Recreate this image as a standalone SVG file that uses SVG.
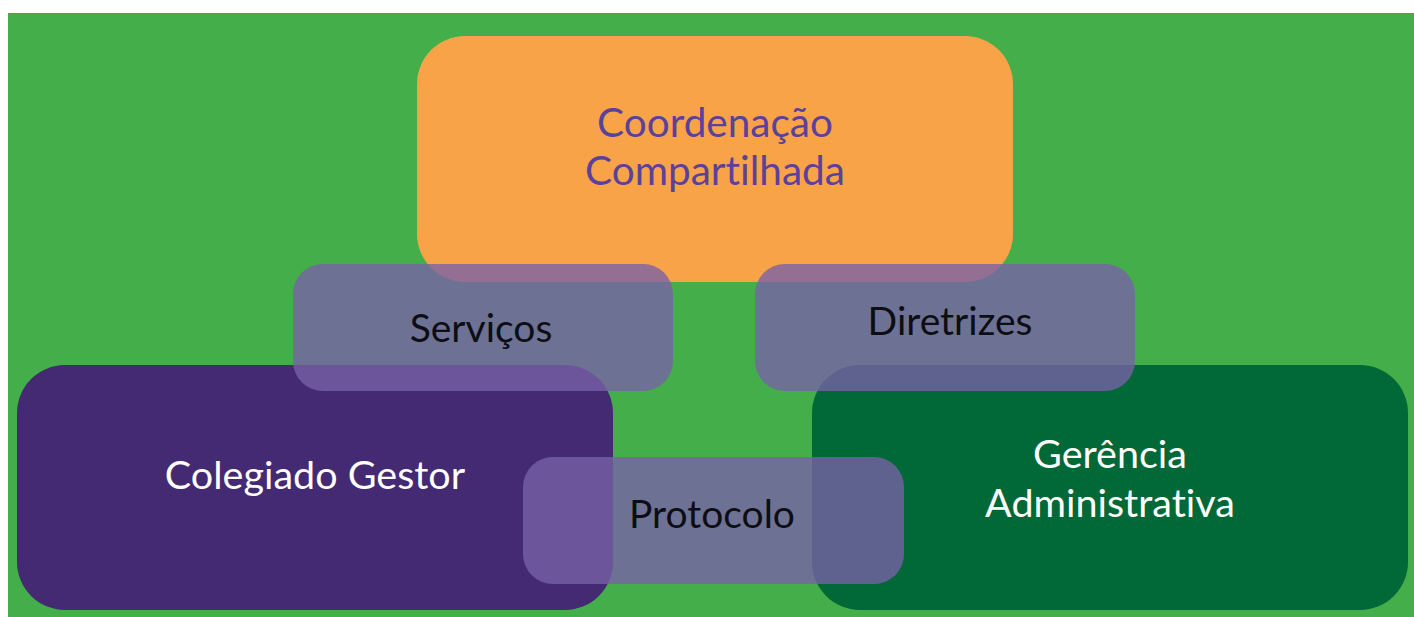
<svg xmlns="http://www.w3.org/2000/svg" width="1414" height="617" viewBox="0 0 1414 617">
<style>
.lbl{font-family:Lato,"Open Sans","Liberation Sans",sans-serif;text-anchor:middle;font-variant-ligatures:none}
.big{font-size:39.5px;fill:#ffffff}
.top{font-size:40.5px;fill:#5a4199}
.mid{font-size:39px;fill:#0d0d14}
.ov{fill:#7960a8;fill-opacity:0.79}
</style>
<rect x="0" y="0" width="1414" height="617" fill="#ffffff"/>
<rect x="8" y="13" width="1406" height="604" fill="#43ae4a"/>
<g id="coordenacao">
<rect x="417" y="36" width="596" height="246" rx="48" fill="#f9a349"/>
<text class="lbl top" x="715" y="137">Coordenação</text>
<text class="lbl top" x="715" y="185">Compartilhada</text>
</g>
<g id="colegiado">
<rect x="17" y="365" width="596" height="245" rx="48" fill="#432a72"/>
<text class="lbl big" x="315" y="489">Colegiado Gestor</text>
</g>
<g id="gerencia">
<rect x="812" y="365" width="596" height="245" rx="48" fill="#016837"/>
<text class="lbl big" x="1110" y="468">Gerência</text>
<text class="lbl big" x="1110" y="517">Administrativa</text>
</g>
<g id="servicos">
<rect class="ov" x="293" y="264" width="380" height="127" rx="30"/>
<text class="lbl mid" x="481" y="342">Serviços</text>
</g>
<g id="diretrizes">
<rect class="ov" x="755" y="264" width="380" height="127" rx="30"/>
<text class="lbl mid" x="950" y="335">Diretrizes</text>
</g>
<g id="protocolo">
<rect class="ov" x="523" y="457" width="381" height="127" rx="30"/>
<text class="lbl mid" x="712" y="528">Protocolo</text>
</g>
<g id="connectors"></g>
</svg>
